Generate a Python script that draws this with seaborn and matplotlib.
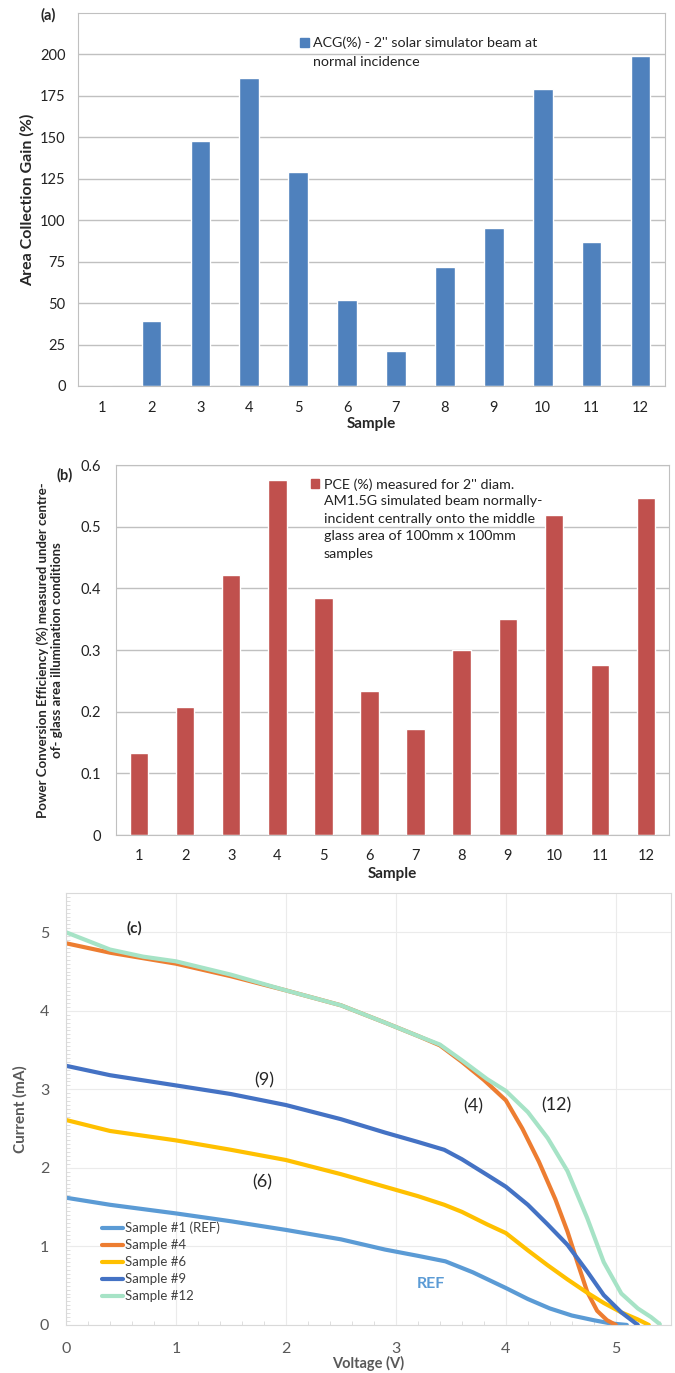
import matplotlib
matplotlib.use("Agg")
import matplotlib.pyplot as plt
from matplotlib.patches import Patch
from matplotlib.ticker import MultipleLocator
import pandas as pd
import seaborn as sns

# ---- data ----
samples = [str(i) for i in range(1, 13)]
acg = [0, 39, 148, 186, 129, 52, 21, 72, 95, 179, 87, 199]
pce = [0.133, 0.208, 0.421, 0.575, 0.384, 0.234, 0.172, 0.300, 0.350, 0.519, 0.276, 0.546]

v_ref = [0, 0.4, 1.0, 1.5, 2.0, 2.5, 2.9, 3.2, 3.45, 3.7, 4.0, 4.2, 4.4, 4.6, 4.8, 4.95, 5.1]
i_ref = [1.62, 1.53, 1.42, 1.32, 1.21, 1.09, 0.96, 0.88, 0.81, 0.67, 0.47, 0.33, 0.21, 0.12, 0.06, 0.02, 0.0]

v_s4 = [0, 0.4, 0.7, 1.0, 1.5, 2.0, 2.5, 2.9, 3.2, 3.4, 3.6, 3.8, 4.0, 4.15, 4.3, 4.45,
        4.56, 4.65, 4.74, 4.83, 4.92, 5.0]
i_s4 = [4.86, 4.74, 4.67, 4.60, 4.44, 4.26, 4.07, 3.85, 3.68, 3.56, 3.35, 3.12, 2.86, 2.50, 2.08, 1.60,
        1.19, 0.80, 0.42, 0.18, 0.06, 0.0]

v_s6 = [0, 0.4, 1.0, 1.5, 2.0, 2.5, 2.9, 3.2, 3.44, 3.6, 3.83, 4.0, 4.2, 4.38, 4.56, 4.74,
        4.89, 5.05, 5.2, 5.3]
i_s6 = [2.61, 2.47, 2.35, 2.23, 2.10, 1.92, 1.76, 1.64, 1.53, 1.44, 1.28, 1.17, 0.95, 0.76, 0.58, 0.41,
        0.28, 0.16, 0.07, 0.0]

v_s9 = [0, 0.4, 1.0, 1.5, 2.0, 2.5, 2.9, 3.2, 3.44, 3.6, 3.83, 4.0, 4.2, 4.38, 4.56, 4.74,
        4.89, 5.05, 5.2]
i_s9 = [3.30, 3.18, 3.05, 2.94, 2.80, 2.62, 2.45, 2.33, 2.23, 2.11, 1.91, 1.76, 1.53, 1.28, 1.02, 0.68,
        0.38, 0.16, 0.0]

v_s12 = [0, 0.4, 0.7, 1.0, 1.5, 2.0, 2.5, 2.9, 3.2, 3.4, 3.6, 3.83, 4.0, 4.2, 4.38, 4.56,
         4.74, 4.89, 5.05, 5.2, 5.32, 5.4]
i_s12 = [5.0, 4.78, 4.69, 4.63, 4.46, 4.26, 4.07, 3.85, 3.68, 3.57, 3.37, 3.13, 2.98, 2.71, 2.38, 1.96,
         1.36, 0.80, 0.40, 0.21, 0.10, 0.01]

curve_names = ["Sample #1 (REF)", "Sample #4", "Sample #6", "Sample #9", "Sample #12"]
curve_colors = ["#5B9BD5", "#ED7D31", "#FFC000", "#4472C4", "#A6E3C6"]

acg_legend = ["ACG(%) - 2'' solar simulator beam at", "normal incidence"]
pce_legend = ["PCE (%) measured for 2'' diam.", "AM1.5G simulated beam normally-",
              "incident centrally onto the middle", "glass area of 100mm x 100mm", "samples"]

sns.set_style("white")
plt.rcParams['font.family'] = ['Lato', 'DejaVu Sans']

fig = plt.figure(figsize=(6.75, 13.73), dpi=100)
grid_col = "#C0C0C0"


def block_legend(ax, color, lines, anchor, fs, pitch):
    # square patch + first line as a legend, the other lines stacked below it
    leg = ax.legend(handles=[Patch(color=color)], labels=[lines[0]],
                    loc="upper left", bbox_to_anchor=anchor, frameon=False,
                    handlelength=0.6, handleheight=0.6, handletextpad=0.3,
                    fontsize=fs, borderpad=0, borderaxespad=0)
    leg.get_texts()[0].set_color("#222222")
    fig.canvas.draw()
    bb = leg.get_texts()[0].get_window_extent()
    inv = fig.transFigure.inverted()
    for k, line in enumerate(lines[1:], start=1):
        x0, y0 = inv.transform((bb.x0, bb.y1 - k * pitch))
        fig.text(x0, y0, line, fontsize=fs, va="top", ha="left", color="#222222")


# ---- (a) ----
ax1 = fig.add_axes([0.1156, 0.7189, 0.8696, 0.2717])
sns.barplot(x=samples, y=acg, color="#4F81BD", saturation=1, width=0.4, ax=ax1)
ax1.set_ylim(0, 225)
ax1.set_yticks(range(0, 201, 25))
ax1.yaxis.grid(True, color=grid_col, lw=1)
ax1.set_axisbelow(True)
for s in ax1.spines.values():
    s.set_color(grid_col)
ax1.tick_params(axis="x", length=0, labelsize=10.5, colors="#222222", pad=11)
ax1.tick_params(axis="y", length=0, labelsize=10.5, colors="#222222", pad=9)
ax1.set_xlabel("Sample", fontsize=11, fontweight="bold", labelpad=1)
ax1.set_ylabel("Area Collection Gain (%)", fontsize=11.5, fontweight="bold", labelpad=4)
block_legend(ax1, "#4F81BD", acg_legend, (0.379, 0.936), 10.3, 19)
fig.text(0.071, 0.989, "(a)", fontsize=10.5, fontweight="bold", ha="center", va="center")

# ---- (b) ----
ax2 = fig.add_axes([0.1719, 0.3918, 0.8193, 0.2695])
sns.barplot(x=samples, y=pce, color="#C0504D", saturation=1, width=0.4, ax=ax2)
ax2.set_ylim(0, 0.6)
ax2.set_yticks([0, 0.1, 0.2, 0.3, 0.4, 0.5, 0.6])
ax2.set_yticklabels(["0", "0.1", "0.2", "0.3", "0.4", "0.5", "0.6"])
ax2.yaxis.grid(True, color=grid_col, lw=1)
ax2.set_axisbelow(True)
for s in ax2.spines.values():
    s.set_color(grid_col)
ax2.tick_params(axis="x", length=0, labelsize=10.5, colors="#222222", pad=10)
ax2.tick_params(axis="y", length=0, labelsize=10.5, colors="#222222", pad=11)
ax2.set_xlabel("Sample", fontsize=11, fontweight="bold", labelpad=3)
ax2.set_ylabel("Power Conversion Efficiency (%) measured under centre-\nof- glass area illumination conditions",
               fontsize=9.5, fontweight="bold", labelpad=12, linespacing=1.25)
block_legend(ax2, "#C0504D", pce_legend, (0.352, 0.965), 10.3, 17.5)
fig.text(0.096, 0.654, "(b)", fontsize=10.5, fontweight="bold", ha="center", va="center")

# ---- (c) ----
frames = []
for name, v, i in zip(curve_names, [v_ref, v_s4, v_s6, v_s9, v_s12],
                      [i_ref, i_s4, i_s6, i_s9, i_s12]):
    frames.append(pd.DataFrame({"Voltage": v, "Current": i, "Sample": name}))
iv = pd.concat(frames, ignore_index=True)

ax3 = fig.add_axes([0.0978, 0.035, 0.896, 0.3146])
sns.lineplot(data=iv, x="Voltage", y="Current", hue="Sample", hue_order=curve_names,
             palette=curve_colors, lw=3, sort=False, ax=ax3)
ax3.set_xlim(0, 5.5)
ax3.set_ylim(0, 5.5)
ax3.xaxis.set_major_locator(MultipleLocator(1))
ax3.yaxis.set_major_locator(MultipleLocator(1))
ax3.xaxis.set_minor_locator(MultipleLocator(0.2))
ax3.yaxis.set_minor_locator(MultipleLocator(0.05))
ax3.grid(True, which="major", color="#EBEBEB", lw=0.8)
ax3.set_axisbelow(True)
for s in ax3.spines.values():
    s.set_color("#D9D9D9")
ax3.tick_params(which="major", length=0, labelsize=11.5, colors="#595959", pad=12)
ax3.tick_params(which="minor", length=3, color="#D9D9D9", direction="in")
ax3.tick_params(bottom=True, left=True, which="minor")
ax3.set_xlabel("Voltage (V)", fontsize=10.5, fontweight="bold", color="#595959", labelpad=0)
ax3.set_ylabel("Current (mA)", fontsize=11, fontweight="bold", color="#595959", labelpad=9)
leg = ax3.legend(loc="lower left", bbox_to_anchor=(0.04, 0.025), frameon=False, fontsize=9.5,
                 handlelength=1.6, handletextpad=0.1, labelspacing=0.38)
for t in leg.get_texts():
    t.set_color("#404040")
ax3.text(0.62, 5.05, "(c)", fontsize=11, fontweight="bold", ha="center", va="center")
ax3.text(1.8, 3.12, "(9)", fontsize=13, ha="center", va="center")
ax3.text(1.78, 1.82, "(6)", fontsize=13, ha="center", va="center")
ax3.text(3.7, 2.78, "(4)", fontsize=13, ha="center", va="center")
ax3.text(4.46, 2.8, "(12)", fontsize=13, ha="center", va="center")
ax3.text(3.32, 0.52, "REF", fontsize=11.5, color="#5B9BD5", fontweight="bold", ha="center", va="center")

fig.savefig("out.png", dpi=100)
